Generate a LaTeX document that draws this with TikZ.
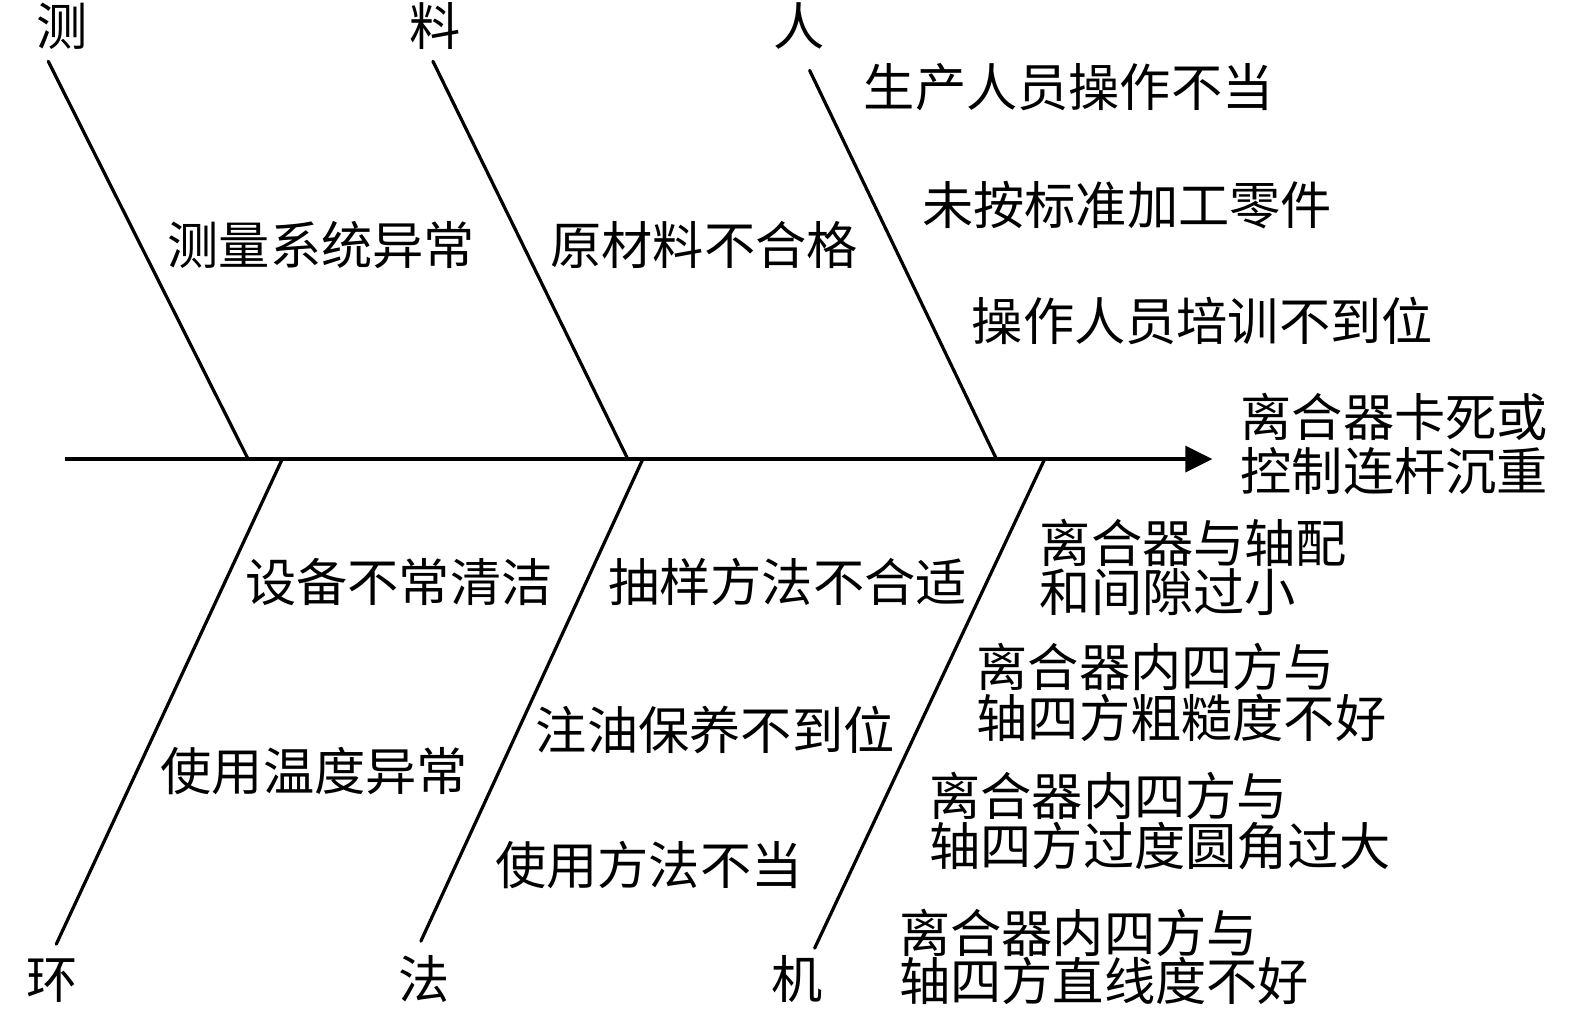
\documentclass[tikz,border=0pt]{standalone}
\usepackage{fontspec}
\setmainfont{Noto Sans CJK SC}
\usetikzlibrary{arrows.meta}
\tikzset{
  bone/.style={line width=3.2pt, line cap=round},
  spine/.style={line width=3.2pt, -{Triangle[length=27pt,width=26pt]}},
  lbl/.style={inner sep=0pt, font=\fontsize{51}{56}\selectfont, text height=43pt, text depth=6pt},
  lblw/.style={lbl, anchor=west},
}
\begin{document}
\begin{tikzpicture}[x=1pt,y=-1pt]
\useasboundingbox[fill=white] (0,0) rectangle (1568,1009);
% spine
\coordinate (s0) at (65,457);
\coordinate (s1) at (1207,457);
\draw[spine] (s0) -- (s1);
% upper bones
\coordinate (mTop) at (48,61);   \coordinate (mJ) at (247,457);
\coordinate (lTop) at (431,61);  \coordinate (lJ) at (625,457);
\coordinate (rTop) at (806,70);  \coordinate (rJ) at (992,457);
\draw[bone] (mTop) -- (mJ);
\draw[bone] (lTop) -- (lJ);
\draw[bone] (rTop) -- (rJ);
% lower bones
\coordinate (hJ) at (281,457);   \coordinate (hBot) at (56,940);
\coordinate (fJ) at (640,457);   \coordinate (fBot) at (419,937);
\coordinate (jJ) at (1040,457);  \coordinate (jBot) at (811,944);
\draw[bone] (hJ) -- (hBot);
\draw[bone] (fJ) -- (fBot);
\draw[bone] (jJ) -- (jBot);
% category labels
\node[lbl] (tc) at (62,27) {测};
\node[lbl] (tl) at (433,27) {料};
\node[lbl] (tr) at (796,27) {人};
\node[lbl] (th) at (52,976) {环};
\node[lbl] (tf) at (422,976) {法};
\node[lbl] (tj) at (794,976) {机};
% upper causes
\node[lbl] (c1) at (320,245) {测量系统异常};
\node[lbl] (c2) at (701,245) {原材料不合格};
\node[lbl] (c3) at (1064,88) {生产人员操作不当};
\node[lbl] (c4) at (1122,205) {未按标准加工零件};
\node[lbl] (c5) at (1197,320) {操作人员培训不到位};
% effect
\node[lblw] (e1) at (1235,416) {离合器卡死或};
\node[lblw] (e2) at (1235,470) {控制连杆沉重};
% lower causes
\node[lbl] (d1) at (397,580) {设备不常清洁};
\node[lbl] (d2) at (784,580) {抽样方法不合适};
\node[lbl] (d3) at (712,728) {注油保养不到位};
\node[lbl] (d4) at (313,768) {使用温度异常};
\node[lbl] (d5) at (646,862) {使用方法不当};
\node[lblw] (m1a) at (1035,541) {离合器与轴配};
\node[lblw] (m1b) at (1035,590) {和间隙过小};
\node[lblw] (m2a) at (972,665) {离合器内四方与};
\node[lblw] (m2b) at (972,716) {轴四方粗糙度不好};
\node[lblw] (m3a) at (925,793) {离合器内四方与};
\node[lblw] (m3b) at (925,843) {轴四方过度圆角过大};
\node[lblw] (m4a) at (895,930) {离合器内四方与};
\node[lblw] (m4b) at (895,978) {轴四方直线度不好};
\end{tikzpicture}
\end{document}
